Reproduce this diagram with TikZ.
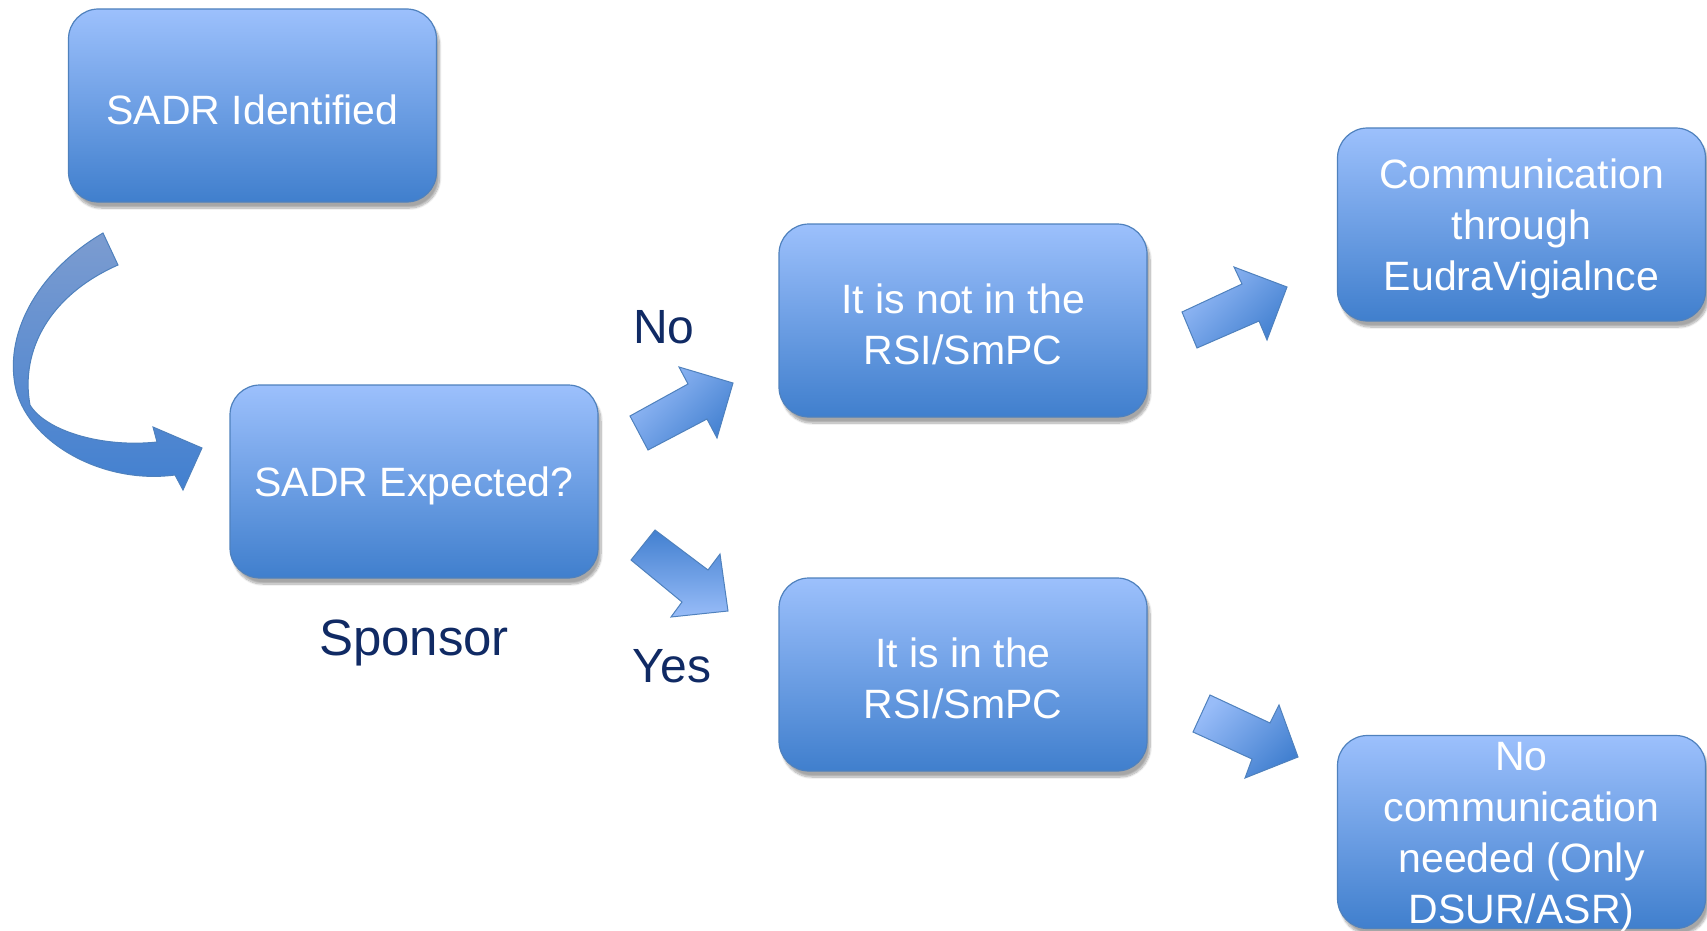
\documentclass[tikz,border=0pt]{standalone}
\usepackage{fontspec}
\setmainfont{Liberation Sans}
\usetikzlibrary{shadows.blur}
\definecolor{boxtop}{RGB}{156,192,252}
\definecolor{boxbot}{RGB}{64,127,205}
\definecolor{boxline}{RGB}{79,129,189}
\definecolor{arrlight}{RGB}{152,188,248}
\definecolor{arrdark}{RGB}{66,128,208}
\definecolor{curvetop}{RGB}{124,156,208}
\definecolor{labelblue}{RGB}{16,42,100}
\begin{document}
\begin{tikzpicture}[x=1pt, y=-1pt,
  stepbox/.style={draw=boxline, line width=1.2pt, rounded corners=30pt, top color=boxtop, bottom color=boxbot,
    minimum width=368pt, minimum height=193pt,
    blur shadow={shadow xshift=3pt, shadow yshift=-6pt, shadow blur steps=10, shadow opacity=35}},
  boxtext/.style={text=white, align=center, font=\fontsize{41}{51}\selectfont},
  blockarrow/.style={draw=boxline, line width=1pt, top color=arrlight, bottom color=arrdark, shading angle=45},
  answer/.style={text=labelblue, font=\fontsize{48}{58}\selectfont}]
\useasboundingbox (0,0) rectangle (1707,931);
\node [stepbox] (identified) at (252.5,105.5) {};
\node [stepbox] (expected) at (414,481.5) {};
\node [stepbox] (notinrsi) at (963,320.5) {};
\node [stepbox] (inrsi) at (963,674.5) {};
\node [stepbox] (eudra) at (1521.5,224.5) {};
\node [stepbox] (nocomm) at (1521.5,832) {};
\node [boxtext] (identifiedtext) at ([yshift=-4pt]identified.center) {SADR Identified};
\node [boxtext] (expectedtext) at ([yshift=-4pt]expected.center) {SADR Expected?};
\node [boxtext] (notinrsitext) at ([yshift=-4pt]notinrsi.center) {It is not in the\\RSI/SmPC};
\node [boxtext] (inrsitext) at ([yshift=-4pt]inrsi.center) {It is in the\\RSI/SmPC};
\node [boxtext] (eudratext) at ([yshift=-4pt]eudra.center) {Communication\\through\\EudraVigialnce};
\node [boxtext] (nocommtext) at ([yshift=-5pt]nocomm.center) {No\\communication\\needed (Only\\DSUR/ASR)};
\node [answer] (no) at (664,327) {No};
\node [answer] (yes) at (672,666) {Yes};
\node [answer, font=\fontsize{51}{60}\selectfont] (sponsor) at (414,643) {Sponsor};
\draw [blockarrow, shading angle=0, top color=curvetop, bottom color=arrdark] (103,233) .. controls (40,270) and (5,330) .. (15,385) .. controls (25,440) and (100,485) .. (175,475) -- (183,490) -- (202,448) -- (153,427) -- (157,442) .. controls (100,448) and (45,430) .. (30,405) .. controls (20,350) and (50,295) .. (118,265) -- cycle;
\draw [blockarrow] (630,416) -- (688,384) -- (679,367) -- (733,383) -- (717,438) -- (707,419) -- (648,450) -- cycle;
\draw [blockarrow, top color=arrdark, bottom color=arrlight] (655,530) -- (708,570) -- (720,554) -- (728,611) -- (671,617) -- (682,602) -- (631,560) -- cycle;
\draw [blockarrow] (1182,312) -- (1242,284) -- (1234,267) -- (1287,287) -- (1267,340) -- (1259,321) -- (1197,348) -- cycle;
\draw [blockarrow] (1210,695) -- (1270,723) -- (1279,705) -- (1298,757) -- (1245,778) -- (1252,759) -- (1193,732) -- cycle;
\end{tikzpicture}
\end{document}
